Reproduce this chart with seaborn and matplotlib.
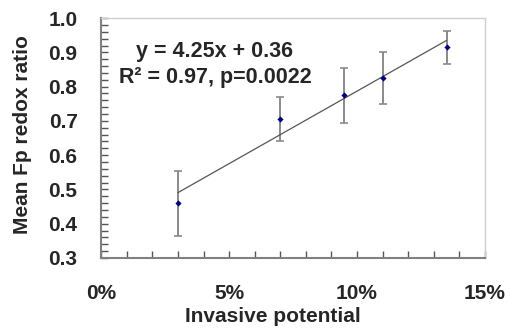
import matplotlib
matplotlib.use("Agg")
import matplotlib.pyplot as plt
import matplotlib.ticker as mticker
import seaborn as sns
import pandas as pd
import numpy as np

# Data
invasive = [0.03, 0.07, 0.095, 0.11, 0.135]
redox = [0.46, 0.705, 0.775, 0.825, 0.915]
redox_err = [0.095, 0.064, 0.08, 0.076, 0.048]
x_ticks = [0.0, 0.05, 0.10, 0.15]
y_ticks = [0.3, 0.4, 0.5, 0.6, 0.7, 0.8, 0.9, 1.0]
eq_text = "y = 4.25x + 0.36"
stat_text = "R² = 0.97, p=0.0022"

df = pd.DataFrame({"Invasive potential": invasive, "Mean Fp redox ratio": redox, "err": redox_err})

sns.set_theme(style="white")
plt.rcParams["font.family"] = ["Liberation Sans", "DejaVu Sans"]
plt.rcParams["font.weight"] = "bold"

fig = plt.figure(figsize=(5.11, 3.29), dpi=100)
ax = fig.add_axes([0.198, 0.216, 0.751, 0.729])

# error bars
ax.errorbar(df["Invasive potential"], df["Mean Fp redox ratio"], yerr=df["err"],
            fmt="none", ecolor="#8a8a8a", elinewidth=1.4, capsize=3, capthick=1.2, zorder=2)

# trend line
sns.regplot(data=df, x="Invasive potential", y="Mean Fp redox ratio", ax=ax, scatter=False,
            ci=None, truncate=True, line_kws=dict(color="#555555", lw=0.9, zorder=3))

# points
sns.scatterplot(data=df, x="Invasive potential", y="Mean Fp redox ratio", ax=ax,
                marker="D", s=10, color="#000080", edgecolor="#000080", linewidth=0, zorder=4)

ax.set_xlim(0, 0.15)
ax.set_ylim(0.3, 1.0)
ax.set_xticks(x_ticks)
ax.set_yticks(y_ticks)
ax.xaxis.set_major_formatter(mticker.FuncFormatter(lambda v, p: f"{v*100:.0f}%"))
ax.yaxis.set_major_formatter(mticker.FormatStrFormatter("%.1f"))
ax.xaxis.set_minor_locator(mticker.MultipleLocator(0.01))
ax.yaxis.set_minor_locator(mticker.MultipleLocator(0.02))
ax.tick_params(axis="both", which="both", direction="in", length=5, width=1, color="#555555",
               labelsize=15, bottom=True, left=True)
ax.tick_params(axis="x", which="major", pad=19)
ax.tick_params(axis="y", which="major", pad=17)
for lab in ax.get_xticklabels() + ax.get_yticklabels():
    lab.set_fontweight("bold")

for s in ["left", "bottom"]:
    ax.spines[s].set_color("#808080")
    ax.spines[s].set_linewidth(1.5)
for s in ["top", "right"]:
    ax.spines[s].set_color("#cfcfcf")
    ax.spines[s].set_linewidth(1.0)

ax.set_xlabel("Invasive potential", fontsize=15, fontweight="bold")
ax.set_ylabel("Mean Fp redox ratio", fontsize=15, fontweight="bold")
ax.xaxis.set_label_coords(0.448, -0.205)
ax.yaxis.set_label_coords(-0.18, 0.515)

ax.text(0.296, 0.8625, eq_text, transform=ax.transAxes, ha="center", va="center",
        fontsize=15.5, fontweight="bold")
ax.text(0.298, 0.754, stat_text, transform=ax.transAxes, ha="center", va="center",
        fontsize=15.5, fontweight="bold")

fig.savefig("out.png", dpi=100)
